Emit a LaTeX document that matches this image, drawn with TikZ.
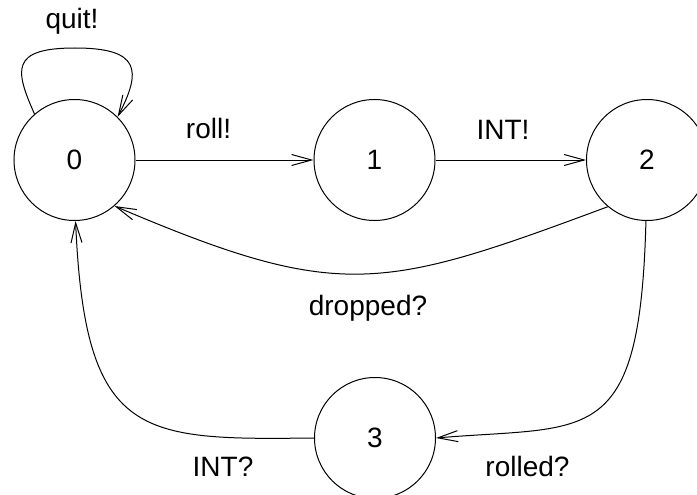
\documentclass[tikz,border=0pt]{standalone}
\usepackage{fontspec}
\setmainfont{Liberation Sans}
\usetikzlibrary{arrows.meta}
\begin{document}
\begin{tikzpicture}[x=1pt,y=-1pt,
  state/.style={draw,circle,line width=1pt,minimum size=121pt,inner sep=0pt,
    font=\fontsize{28}{34}\selectfont},
  lbl/.style={anchor=base,inner sep=0pt,font=\fontsize{28}{34}\selectfont},
  trans/.style={line width=1pt,-{Straight Barb[length=20pt,width=11pt,line width=1pt]}}]
  \useasboundingbox (0,0) rectangle (697,495);

  % states
  \node[state] (n0) at (74.5,160) {0};
  \node[state] (n1) at (374.5,160) {1};
  \node[state] (n2) at (647,160) {2};
  \node[state] (n3) at (375,438) {3};

  % transitions
  \draw[trans] (n0.131) .. controls (15,70) and (10,48) .. (75,48)
               .. controls (140,48) and (142,70) .. (n0.45);
  \draw[trans] (n0) -- (n1);
  \draw[trans] (n1) -- (n2);
  \draw[trans] (n2.230) .. controls (381,291) and (340,302) .. (n0.311);
  \draw[trans] (n2.269) .. controls (640,450) and (590,425) .. (n3.east);
  \draw[trans] (n3.west) .. controls (140,440) and (85,440) .. (n0.271);

  % labels
  \node[lbl] (lq) at (72,28.5) {quit!};
  \node[lbl] (lr) at (208.5,138.5) {roll!};
  \node[lbl] (li) at (503,139.3) {INT!};
  \node[lbl] (ld) at (368,315) {dropped?};
  \node[lbl] (lro) at (527.5,476.7) {rolled?};
  \node[lbl] (lq2) at (223,476.7) {INT?};
\end{tikzpicture}
\end{document}
